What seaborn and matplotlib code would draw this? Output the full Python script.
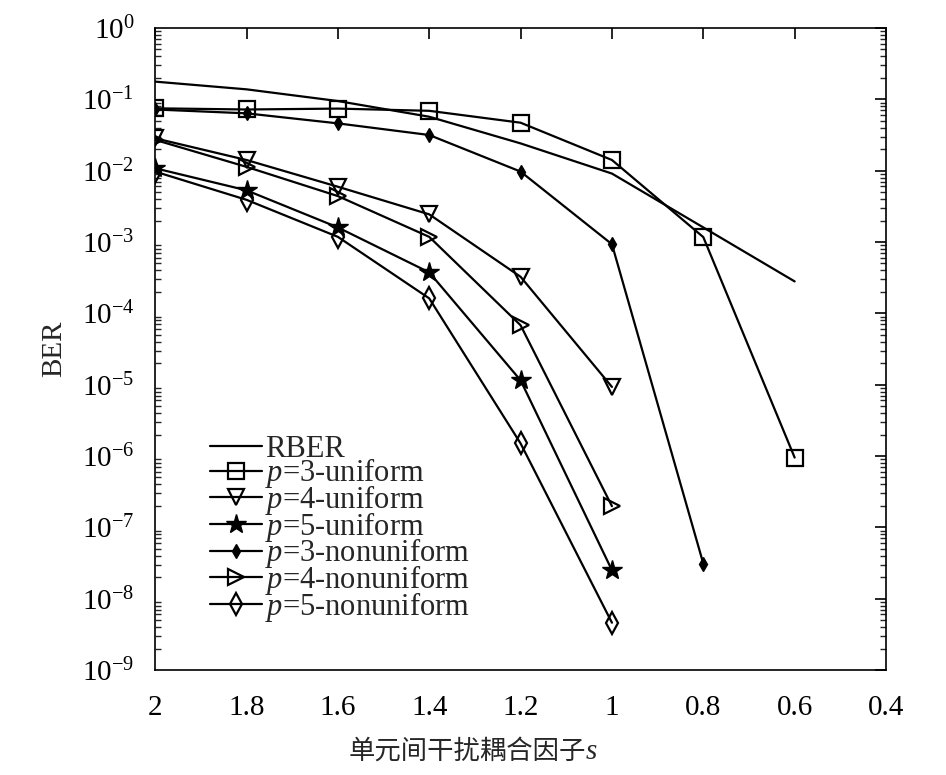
import numpy as np
import pandas as pd
import matplotlib
matplotlib.use("Agg")
import matplotlib.pyplot as plt
import matplotlib.ticker as mticker
import seaborn as sns

# ---- data ----
s_values = [2.0, 1.8, 1.6, 1.4, 1.2, 1.0, 0.8, 0.6]
rber = [0.177, 0.138, 0.0946, 0.057, 0.0241, 0.0091, 1.6e-3, 2.8e-4]
p3_uniform = [0.0748, 0.072, 0.0741, 0.069, 0.047, 0.0141, 1.17e-3, 9.5e-7]
p4_uniform = [0.0284, 0.0141, 5.95e-3, 2.44e-3, 3.25e-4, 9.3e-6]
p5_uniform = [0.0108, 5.3e-3, 1.6e-3, 3.75e-4, 1.15e-5, 2.5e-8]
p3_nonuniform = [0.072, 0.0636, 0.046, 0.0316, 0.0097, 9.3e-4, 3.1e-8]
p4_nonuniform = [0.027, 0.0113, 4.4e-3, 1.18e-3, 6.8e-5, 1.98e-7]
p5_nonuniform = [9.7e-3, 3.9e-3, 1.18e-3, 1.62e-4, 1.5e-6, 4.6e-9]

labels = ["RBER", "$p$=3-uniform", "$p$=4-uniform", "$p$=5-uniform",
          "$p$=3-nonuniform", "$p$=4-nonuniform", "$p$=5-nonuniform"]
x_ticks = [2, 1.8, 1.6, 1.4, 1.2, 1, 0.8, 0.6, 0.4]
x_ticklabels = ["2", "1.8", "1.6", "1.4", "1.2", "1", "0.8", "0.6", "0.4"]

sns.set_style("white")
plt.rcParams["font.family"] = ["Liberation Serif", "DejaVu Serif"]
plt.rcParams["mathtext.fontset"] = "custom"
plt.rcParams["mathtext.rm"] = "Liberation Serif"
plt.rcParams["mathtext.it"] = "Liberation Serif:italic"
plt.rcParams["mathtext.bf"] = "Liberation Serif:bold"

fig = plt.figure(figsize=(9.46, 7.75), dpi=100)
ax = fig.add_axes([0.164, 0.1355, 0.7726, 0.8284])

series = [rber, p3_uniform, p4_uniform, p5_uniform,
          p3_nonuniform, p4_nonuniform, p5_nonuniform]
styles = [
    dict(marker=None),
    dict(marker="s", markersize=11, markerfacecolor="none", markeredgewidth=1.6),
    dict(marker="v", markersize=12, markerfacecolor="none", markeredgewidth=1.6),
    dict(marker="*", markersize=15, markerfacecolor="black", markeredgewidth=1.0),
    dict(marker="d", markersize=7, markerfacecolor="black", markeredgewidth=1.0),
    dict(marker=">", markersize=12, markerfacecolor="none", markeredgewidth=1.6),
    dict(marker="d", markersize=11, markerfacecolor="none", markeredgewidth=1.6),
]

for vals, lab, st in zip(series, labels, styles):
    df = pd.DataFrame({"s": s_values[:len(vals)], "ber": vals})
    sns.lineplot(data=df, x="s", y="ber", ax=ax, color="black", linewidth=1.6,
                 label=lab, sort=False, markeredgecolor="black", **st)

ax.set_yscale("log")
ax.set_xlim(2, 0.4)
ax.set_ylim(1e-9, 1)
ax.set_xticks(x_ticks)
ax.set_xticklabels(x_ticklabels)
ax.yaxis.set_major_locator(mticker.LogLocator(base=10, numticks=20))
ax.yaxis.set_minor_locator(mticker.LogLocator(base=10, subs=np.arange(2, 10), numticks=20))
ax.yaxis.set_minor_formatter(mticker.NullFormatter())

ax.tick_params(axis="both", which="major", direction="in", length=8, width=1.2,
               labelsize=21, top=True, right=True, colors="black")
ax.tick_params(axis="x", which="major", pad=18)
ax.tick_params(axis="y", which="major", pad=15)
ax.tick_params(axis="y", which="minor", direction="in", length=4.5, width=1.0,
               left=True, right=True)
ax.tick_params(axis="x", which="minor", bottom=False, top=False)
for sp in ax.spines.values():
    sp.set_color("black")
    sp.set_linewidth(1.2)

ax.set_xlabel("")
ax.set_ylabel("BER", fontsize=21, labelpad=10)

# x label: Chinese text with italic s
ax.text(0.589, -0.126, "单元间干扰耦合因子", transform=ax.transAxes, ha="right",
        va="center", fontsize=19, family=["Noto Sans CJK SC", "DejaVu Sans"])
ax.text(0.589, -0.128, "s", transform=ax.transAxes, ha="left", va="center",
        fontsize=21, family="Liberation Serif", style="italic")

leg = ax.legend(loc="lower left", bbox_to_anchor=(0.075, 0.072), frameon=False,
                fontsize=22, handlelength=1.7, handletextpad=0.1,
                labelspacing=-0.24, borderpad=0, borderaxespad=0)

fig.savefig("out.png", dpi=100)
